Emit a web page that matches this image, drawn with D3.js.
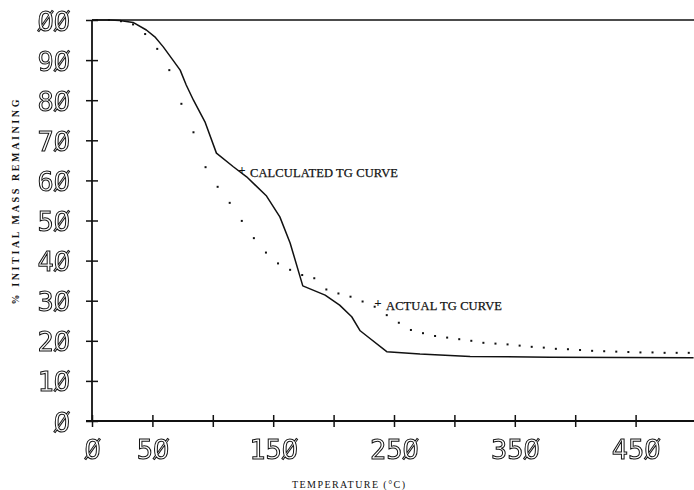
<!DOCTYPE html>
<html>
<head>
<meta charset="utf-8">
<script src="https://cdn.jsdelivr.net/npm/d3@7"></script>
<style>
  html, body { margin: 0; padding: 0; background: #fff; }
  svg { display: block; }
</style>
</head>
<body>
<svg id="chart" width="694" height="490"></svg>
<script>
// Calculated TG curve (solid line): temperature (°C) vs % initial mass remaining
const calcTemp = [0, 15, 23, 34, 45, 52, 59, 67, 73, 78, 84, 93.5, 103, 117, 128, 144.5, 155.5, 164, 174.5, 193, 205, 215, 222, 227.5, 244, 271.5, 313, 379, 498];
const calcMass = [100, 100, 99.9, 99.4, 97.5, 95.8, 93.3, 90, 87.5, 83.8, 80, 74.6, 66.8, 63.4, 60.9, 56.1, 50.9, 44.4, 33.7, 31.4, 28.9, 26, 22.5, 21.2, 17.3, 16.7, 16.1, 15.9, 15.8];

// Actual TG curve (dotted): one reading every 10 °C
const actualTemp = [4, 14, 24, 34, 44, 54, 64, 74, 84, 94, 104, 114, 124, 134, 144, 154, 164, 174, 184, 194, 204, 214, 224, 234, 244, 254, 264, 274, 284, 294, 304, 314, 324, 334, 344, 354, 364, 374, 384, 394, 404, 414, 424, 434, 444, 454, 464, 474, 484, 494];
const actualMass = [100, 100, 99.7, 98.9, 96.5, 92.8, 87.5, 79.1, 72.0, 63.3, 58.4, 54.4, 49.9, 45.6, 42.0, 39.3, 37.7, 36.4, 35.6, 32.8, 31.8, 31.0, 29.8, 28.5, 26.4, 24.5, 22.7, 21.9, 21.2, 20.8, 20.4, 20.0, 19.5, 19.3, 19.1, 18.8, 18.5, 18.3, 18.0, 17.9, 17.7, 17.5, 17.4, 17.3, 17.2, 17.1, 17.1, 17.0, 17.0, 17.0];

// Axis ticks and the plotter's tick labels (slashed zeros)
const xTicks = [0, 50, 100, 150, 200, 250, 300, 350, 400, 450, 500];
const xTickLabels = ["Ø", "5Ø", "", "15Ø", "", "25Ø", "", "35Ø", "", "45Ø", ""];
const yTicks = [0, 10, 20, 30, 40, 50, 60, 70, 80, 90, 100];
const yTickLabels = ["Ø", "1Ø", "2Ø", "3Ø", "4Ø", "5Ø", "6Ø", "7Ø", "8Ø", "9Ø", "ØØ"];

const svg = d3.select("#chart");
const W = 694, H = 490;

// Grayscale rendering for the outlined plotter digits
svg.append("defs").append("filter").attr("id", "flat")
  .append("feOffset").attr("dx", 0).attr("dy", 0);

const x = d3.scaleLinear().domain([0, 500]).range([92, 696]);
const y = d3.scaleLinear().domain([0, 100]).range([421, 20]);

const ink = "#111";

function digitStyle(sel) {
  sel.attr("font-family", "DejaVu Sans Mono")
    .attr("font-size", 27)
    .attr("fill", "none").attr("stroke", ink).attr("stroke-width", 1)
    .attr("filter", "url(#flat)");
}

// Axes with crossing ticks
const xAxis = d3.axisBottom(x).tickValues(xTicks).tickSize(0).tickFormat("");
const gx = svg.append("g").attr("transform", `translate(0,${y(0)})`).call(xAxis);
gx.select(".domain").remove();
gx.append("line").attr("x1", x(0) - 6).attr("x2", W).attr("stroke", ink).attr("stroke-width", 1.8);
gx.selectAll(".tick").append("line")
  .attr("y1", -6).attr("y2", 6).attr("stroke", ink).attr("stroke-width", 1.5);
gx.selectAll(".tick").append("text")
  .text((d, i) => xTickLabels[i])
  .attr("y", 38)
  .attr("text-anchor", "middle")
  .call(digitStyle);

const yAxis = d3.axisLeft(y).tickValues(yTicks).tickSize(0).tickFormat("");
const gy = svg.append("g").attr("transform", `translate(${x(0)},0)`).call(yAxis);
gy.select(".domain").remove();
gy.append("line").attr("y1", y(100)).attr("y2", y(0)).attr("stroke", ink).attr("stroke-width", 1.8);
gy.selectAll(".tick").append("line")
  .attr("x1", -6).attr("x2", 6).attr("stroke", ink).attr("stroke-width", 1.5);
gy.selectAll(".tick").append("text")
  .text((d, i) => yTickLabels[i])
  .attr("x", -22)
  .attr("dy", 10)
  .attr("text-anchor", "end")
  .call(digitStyle);

// Top frame line at 100 %
svg.append("line")
  .attr("x1", x(0)).attr("x2", W).attr("y1", y(100)).attr("y2", y(100))
  .attr("stroke", ink).attr("stroke-width", 1.6);

// Calculated curve
const line = d3.line().x(d => x(d[0])).y(d => y(d[1]));
svg.append("path")
  .datum(d3.zip(calcTemp, calcMass))
  .attr("d", line)
  .attr("fill", "none").attr("stroke", ink).attr("stroke-width", 1.5)
  .attr("stroke-linejoin", "round");

// Actual curve as dots
svg.append("g").selectAll("rect")
  .data(d3.zip(actualTemp, actualMass))
  .join("rect")
  .attr("x", d => x(d[0]) - 1).attr("y", d => y(d[1]) - 1)
  .attr("width", 2).attr("height", 2).attr("fill", ink);

// Curve annotations
const annFont = "Liberation Serif";
function annotate(px, py, label, len) {
  svg.append("text").text("+").attr("x", px).attr("y", py + 4.5)
    .attr("text-anchor", "middle").attr("font-family", annFont).attr("font-size", 13)
    .attr("font-weight", "bold").attr("fill", ink);
  svg.append("text").text(label).attr("x", px + 8).attr("y", py + 8)
    .attr("font-family", annFont).attr("font-size", 12.5).attr("fill", ink)
    .attr("stroke", ink).attr("stroke-width", 0.25)
    .attr("textLength", len).attr("lengthAdjust", "spacing");
}
annotate(242, 169, "CALCULATED TG CURVE", 148);
annotate(378, 302, "ACTUAL TG CURVE", 116);

// Axis titles
svg.append("text").text("TEMPERATURE  (°C)")
  .attr("x", 292).attr("y", 488)
  .attr("font-family", annFont).attr("font-size", 10).attr("fill", ink)
  .attr("textLength", 113).attr("lengthAdjust", "spacing");

svg.append("text").text("% INITIAL MASS REMAINING")
  .attr("transform", "translate(19,202) rotate(-90)")
  .attr("text-anchor", "middle")
  .attr("font-family", annFont).attr("font-size", 10).attr("font-weight", "bold").attr("fill", ink)
  .attr("textLength", 205).attr("lengthAdjust", "spacing");
</script>
</body>
</html>
